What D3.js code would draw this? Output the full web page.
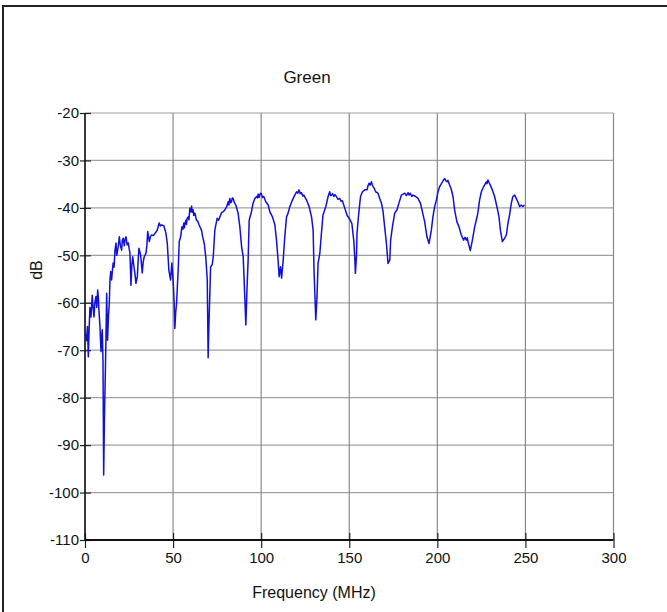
<!DOCTYPE html>
<html><head><meta charset="utf-8">
<script src="https://cdn.jsdelivr.net/npm/d3@7/dist/d3.min.js"></script>
<style>
html,body{margin:0;padding:0;background:#fff;overflow:hidden}
text{font-family:"Liberation Sans",Arial,sans-serif;fill:#111}
</style></head>
<body><svg id="c" width="667" height="612"></svg>
<script>
const titleText = "Green";
const xLabel = "Frequency (MHz)";
const yLabel = "dB";
const xTicks = [0, 50, 100, 150, 200, 250, 300];
const yTicks = [-20, -30, -40, -50, -60, -70, -80, -90, -100, -110];
const freq = [
0,0.8,1.4,1.9,2.3,2.8,3.4,4.1,4.6,5.1,5.6,6.2,6.7,7.2,7.6,7.9,8.5,9.1,9.5,9.8,
10.2,10.6,11.0,11.5,11.9,12.3,12.8,13.3,13.8,14.2,14.6,15.1,15.6,16.0,16.5,17.0,17.6,18.0,18.3,18.9,
19.5,20.1,20.8,21.2,21.7,22.3,22.8,23.3,23.9,24.6,25.0,25.5,26.1,26.6,27.1,27.8,28.4,28.9,29.7,30.2,
30.6,31.6,32.1,32.5,33.0,33.6,34.6,35.1,35.6,36.5,37.2,37.8,38.8,39.7,40.4,41.0,42.1,42.8,43.5,44.8,
45.9,46.7,47.6,48.6,49.3,50.1,50.6,51.0,51.5,52.0,52.5,52.9,53.5,54.3,55.0,55.6,56.1,56.4,56.7,57.3,
57.6,58.0,58.6,59.0,59.5,60.0,60.5,60.8,61.0,61.4,61.7,62.0,62.4,63.3,64.0,64.8,65.6,66.2,66.8,67.7,
68.6,69.4,69.9,70.4,70.9,71.3,72.2,72.8,73.7,75.0,75.8,76.6,77.5,78.5,79.4,80.4,80.9,81.3,81.7,82.2,
82.7,83.2,83.6,84.1,84.8,85.6,86.9,87.9,88.9,89.8,90.7,91.3,92.0,92.6,93.2,94.5,95.4,96.4,97.4,97.9,
98.3,98.8,99.2,99.7,100.2,100.8,101.5,102.6,104.0,104.9,106.4,107.8,108.7,109.6,110.2,111.0,111.6,112.5,113.4,114.4,
115.3,116.3,117.8,119.1,120.1,120.8,121.5,122.2,122.9,123.6,124.2,125.7,127.2,128.6,129.5,130.0,131.0,131.7,132.3,133.3,
134.2,135.1,136.7,138.0,138.9,139.4,139.9,140.5,141.2,141.9,142.7,143.6,144.6,145.3,146.1,147.4,148.8,150.3,151.5,152.6,
153.1,153.5,154.1,154.4,155.2,156.4,157.5,158.8,160.1,160.6,161.2,161.9,162.6,163.0,163.5,164.2,165.0,166.3,167.3,168.3,
169.2,170.1,171.1,172.0,173.0,173.5,174.5,175.8,177.1,178.2,179.6,181.5,182.4,183.4,184.0,184.7,185.5,186.2,187.7,189.0,
190.4,191.5,192.8,194.1,195.3,196.6,197.5,198.5,199.5,200.4,201.3,202.9,203.5,204.2,204.9,205.5,206.0,206.6,208.0,208.9,
209.8,211.1,212.3,213.6,214.9,215.7,216.5,217.0,217.4,218.7,219.9,221.2,222.1,223.0,224.0,225.0,226.3,227.8,228.2,228.7,
229.4,230.1,231.2,232.5,233.8,235.0,235.8,236.9,238.2,239.2,240.1,241.0,242.0,242.9,243.9,244.8,245.7,246.7,247.6,248.6,249.5];
const db = [
-66.4,-68,-65,-71.4,-66,-61,-63,-58.4,-61,-63,-60,-58.7,-61,-57.3,-59,-61.5,-65,-70.3,-67,-65.7,
-72,-96.3,-85,-75.6,-67.5,-58,-67.9,-63,-60,-55,-53.4,-55.2,-53,-51.6,-52.5,-49,-47.4,-50,-49.5,-48,
-46.1,-48,-48.9,-46.8,-46.4,-48,-46.5,-46.1,-47.8,-47.4,-48.5,-49.5,-56.3,-52,-50.3,-52.4,-54,-55.9,-54.5,-51,
-48.5,-50,-52,-53.7,-51.5,-50.3,-49.6,-48,-45.0,-47.1,-46,-45.7,-45.8,-45.4,-45.0,-44.7,-43.2,-43.8,-43.6,-43.8,
-45.3,-47.4,-53.1,-55.2,-51.6,-55.8,-60,-65.4,-62,-60,-56,-53.1,-47.1,-46.1,-44.0,-44.5,-43.2,-44.2,-43.4,-42.6,
-43.5,-42.2,-41.9,-42.5,-40.1,-40.8,-39.6,-40.9,-40.6,-40.4,-41.6,-41.5,-41.1,-42.6,-42.8,-43.6,-44.3,-44.8,-46.1,-47.5,
-50.6,-55.2,-71.6,-64,-57.7,-52.4,-52,-50.3,-44.7,-42.2,-42.6,-41.9,-41.0,-40.8,-40.4,-39.8,-39.2,-38.7,-39.4,-38.0,
-38.9,-38.7,-37.9,-38.0,-38.9,-39.4,-41.1,-44.0,-48.2,-50.3,-58.7,-64.7,-56.6,-51.0,-42.6,-40.8,-39.0,-38.0,-37.6,-37.9,
-37.1,-37.8,-37.3,-36.9,-37.1,-37.8,-37.6,-38.7,-39.4,-40.8,-41.9,-43.6,-46.8,-51.0,-54.5,-52.4,-54.8,-51.0,-46.1,-41.9,
-41.1,-39.7,-38.3,-37.3,-36.6,-36.9,-36.2,-37.0,-36.8,-37.5,-37.3,-38.3,-39.7,-41.9,-44.7,-53.1,-63.6,-58.7,-51.7,-49.6,
-45.4,-41.5,-39.7,-37.6,-36.6,-37.4,-37.3,-37.0,-37.6,-37.2,-37.6,-38.2,-38.0,-38.6,-38.5,-40.0,-41.6,-42.4,-43.3,-47,
-50.3,-53.8,-50,-45.4,-41.9,-37.6,-36.6,-36.2,-36.2,-35.4,-34.8,-35.2,-34.5,-35.0,-35.5,-35.9,-36.6,-36.9,-38.0,-39.0,
-40.8,-44.0,-47.5,-51.7,-51.0,-46.8,-44.0,-41.1,-40.4,-39.0,-37.3,-36.9,-37.4,-36.8,-37.3,-36.9,-37.6,-37.3,-37.6,-38.0,
-39.0,-40.8,-42.9,-46.1,-47.5,-44.7,-41.9,-39.7,-38.3,-36.6,-35.5,-34.5,-34.1,-33.8,-34.3,-34.5,-34.2,-34.8,-36.2,-37.6,
-40.4,-42.9,-44.0,-45.7,-46.8,-46.2,-46.8,-46.3,-47.1,-49.0,-46.8,-44.0,-42.6,-41.1,-38.3,-36.6,-35.5,-34.5,-34.9,-34.1,
-34.7,-35.2,-36.2,-37.6,-39.7,-41.9,-44.7,-47.1,-46.4,-45.7,-43.2,-41.5,-39.0,-37.6,-37.3,-38.0,-38.7,-39.7,-39.4,-39.7,-39.4];

const svg = d3.select("#c");
const x = d3.scaleLinear().domain([0, 300]).range([85, 613.5]);
const y = d3.scaleLinear().domain([-110, -20]).range([540, 113]);
const fmt = d => String(d);

// outer frame
svg.append("path").attr("d", "M3,620 L3,6 L670,6").attr("fill", "none")
  .attr("stroke", "#222").attr("stroke-width", 2);

// gridlines
svg.append("g").selectAll("line").data(yTicks).join("line")
  .attr("x1", x(0)).attr("x2", x(300)).attr("y1", d => y(d)).attr("y2", d => y(d))
  .attr("stroke", "#a0a0a0").attr("stroke-width", 1.2);
svg.append("g").selectAll("line").data(xTicks).join("line")
  .attr("x1", d => x(d)).attr("x2", d => x(d)).attr("y1", y(-20)).attr("y2", y(-110))
  .attr("stroke", "#8a8a8a").attr("stroke-width", 1.2);

// axes
const yAxis = d3.axisLeft(y).tickValues(yTicks).tickFormat(fmt).tickSize(0).tickPadding(6);
const gy = svg.append("g").attr("transform", `translate(${x(0)},0)`).call(yAxis);
gy.select(".domain").remove();
gy.selectAll("text").style("font-size", "15px").attr("fill", "#111");
gy.selectAll(".tick").append("line").attr("x1", -5).attr("x2", 6).attr("stroke", "#222").attr("stroke-width", 1.2);

const xAxis = d3.axisBottom(x).tickValues(xTicks).tickFormat(fmt).tickSize(0).tickPadding(12);
const gx = svg.append("g").attr("transform", `translate(0,${y(-110)})`).call(xAxis);
gx.select(".domain").remove();
gx.selectAll("text").style("font-size", "15px").attr("fill", "#111");
gx.selectAll(".tick").append("line").attr("y1", -7).attr("y2", 8).attr("stroke", "#222").attr("stroke-width", 1.2);

svg.append("line").attr("x1", x(0)).attr("x2", x(0)).attr("y1", y(-20)).attr("y2", y(-110))
  .attr("stroke", "#111").attr("stroke-width", 1.5);
svg.append("line").attr("x1", x(0)).attr("x2", x(300)).attr("y1", y(-110)).attr("y2", y(-110))
  .attr("stroke", "#111").attr("stroke-width", 2);

// data line
const line = d3.line().x((d, i) => x(freq[i])).y((d, i) => y(db[i]));
svg.append("path").datum(db).attr("d", line).attr("fill", "none")
  .attr("stroke", "#1010d8").attr("stroke-width", 1.5).attr("stroke-linejoin", "round");

// labels
svg.append("text").attr("x", 307).attr("y", 83).attr("text-anchor", "middle")
  .style("font-size", "17px").text(titleText);
svg.append("text").attr("x", 314).attr("y", 598).attr("text-anchor", "middle")
  .style("font-size", "16px").text(xLabel);
svg.append("text").attr("transform", "translate(42,270) rotate(-90)").attr("text-anchor", "middle")
  .style("font-size", "16px").text(yLabel);
</script></body></html>
